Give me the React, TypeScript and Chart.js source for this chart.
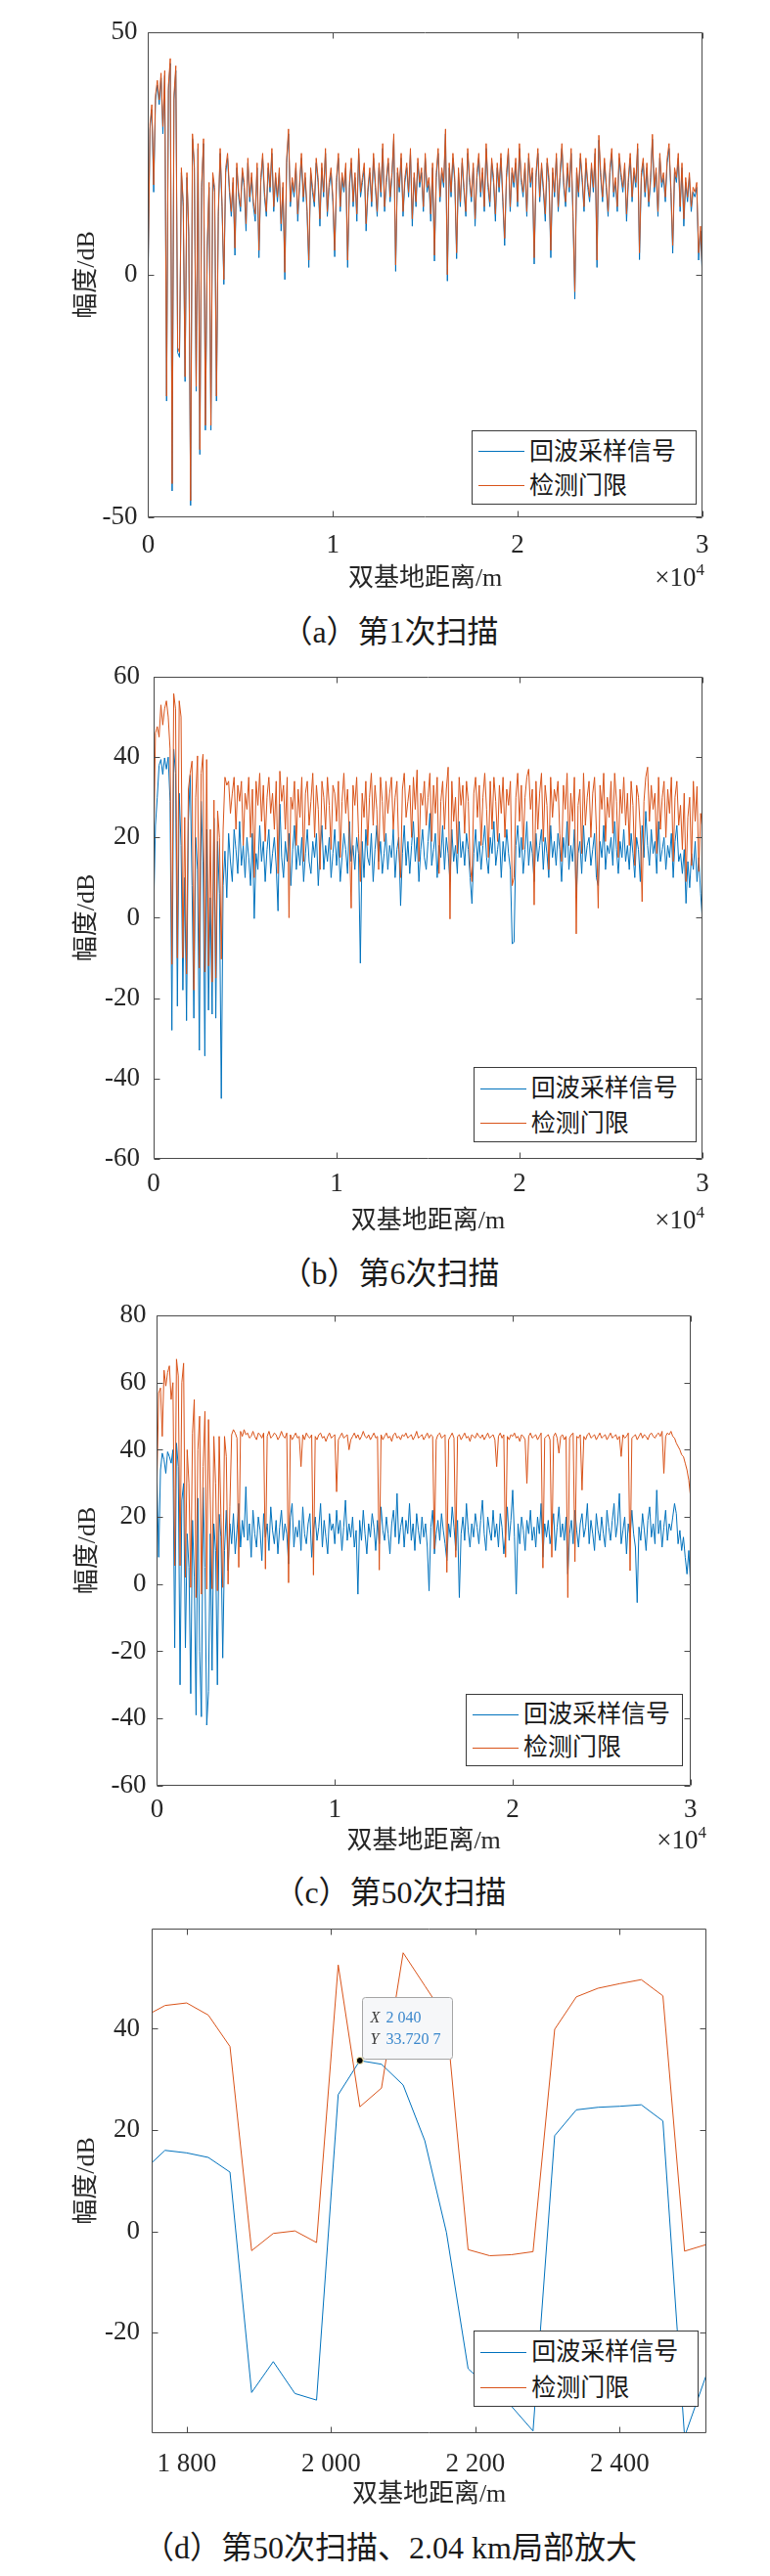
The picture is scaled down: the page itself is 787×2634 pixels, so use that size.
import { useEffect, useRef } from 'react';
import { Chart, registerables, Plugin } from 'chart.js';

Chart.register(...registerables);

const FONT = '"Liberation Serif", "Noto Sans CJK SC", serif';
const INK = '#262626';
const FRAME = '#4a4a4a';
const BLUE = '#0072BD';
const ORANGE = '#D95319';
const TICK_LEN = 6;

const SERIES_NAMES = ['回波采样信号', '检测门限'];
const X_TITLE = '双基地距离/m';
const Y_TITLE = '幅度/dB';

// sampling grid of the full scans (m)
const STEP = 100;
const distance = Array.from({ length: 301 }, (_, i) => i * STEP);

// tick positions
const scanXTicks = [0, 10000, 20000, 30000];
const zoomXTicks = [1800, 2000, 2200, 2400];
const yTicksScan1 = [-50, 0, 50];
const yTicksScan6 = [-60, -40, -20, 0, 20, 40, 60];
const yTicksScan50 = [-60, -40, -20, 0, 20, 40, 60, 80];
const yTicksZoom = [-20, 0, 20, 40];

// scan 1
const echoScan1 = [
  0, 30, 34, 17, 36, 39, 35, 40.5, 29, 41,
  -26, 38, 43.5, -44.5, 36, 42, -16, -17, 21, 14,
  -22, 20, 8, -47.5, 28, 22, -24, 26, -37, 18,
  27, -32, 5, 18, -32, 20, 17, -26, 12, 25,
  14, -2, 21, 24, 17, 12, 19, 4, 22, 16,
  13, 21, 18, 9, 23, 15, 20, 14, 11, 22,
  3.5, 19, 24, 16, 12, 22, 17, 25, 13, 20,
  15, 21, 9, 18, -1, 23, 29, 14, 19, 16,
  22, 11, 18, 24, 15, 20, 13, 1.5, 21, 17,
  14, 23, 19, 10, 22, 16, 25, 12, 18, 21,
  15, 3.7, 19, 24, 13, 20, 17, 22, 1.5, 18,
  23, 14, 20, 11, 25, 16, 19, 22, 9, 17,
  21, 14, 24, 18, 12, 22, 16, 26, 13, 19,
  23, 15, 20, 28, 0.7, 21, 17, 24, 12, 19,
  22, 16, 25, 10, 20, 14, 23, 18, 21, 13,
  24, 17, 19, 11, 22, 2.8, 20, 25, 15, 21,
  18, 29, -1.3, 22, 16, 24, 19, 3.3, 21, 14,
  23, 17, 12, 25, 19, 15, 22, 10, 20, 24,
  16, 21, 13, 26, 18, 14, 23, 19, 11, 22,
  17, 24, 15, 6, 20, 25, 13, 21, 18, 23,
  14, 26, 19, 16, 22, 12, 24, 18, 21, 2.2,
  20, 25, 15, 22, 17, 11, 23, 19, 3.5, 21,
  16, 24, 13, 20, 26, 18, 14, 22, 17, 25,
  12, -5, 21, 16, 24, 19, 13, 23, 18, 15,
  22, 17, 25, 1.5, 27.7, 20, 15, 23, 18, 12,
  21, 25, 16, 19, 13, 24, 20, 17, 22, 11,
  19, 24, 15, 21, 18, 26, 3.1, 20, 23, 16,
  22, 14, 19, 27.9, 17, 21, 12, 24, 18, 20,
  15, 23, 26, 17, 4.4, 21, 19, 24, 13, 22,
  10, 19, 15, 20, 13, 17, 16, 18, 3, 9,
  0,
];
const thresholdScan1 = [
  1, 31, 35, 18.5, 37, 40, 36, 41.5, 30.5, 42,
  -25, 39, 44.5, -43, 37, 43, -15, -16, 22, 15,
  -21, 21, 9, -46.5, 29, 23, -23, 27, -36, 19,
  28, -31, 6, 19, -31, 21, 18, -25, 13, 26,
  15, -1, 22, 25, 18, 13, 20, 5.5, 23, 17,
  14, 22, 19, 10.5, 24, 16, 21, 15, 12.5, 23,
  5, 20, 25, 17, 13, 23, 18, 26, 14, 21,
  16, 22, 10.5, 19, 0.5, 24, 30, 15, 20, 17,
  23, 12.5, 19, 25, 16, 21, 14, 3, 22, 18,
  15, 24, 20, 11.5, 23, 17, 26, 13, 19, 22,
  16, 5, 20, 25, 14, 21, 18, 23, 3, 19,
  24, 15, 21, 12.5, 26, 17, 20, 23, 10.5, 18,
  22, 15, 25, 19, 13, 23, 17, 27, 14, 20,
  24, 16, 21, 29, 2, 22, 18, 25, 13, 20,
  23, 17, 26, 11.5, 21, 15, 24, 19, 22, 14,
  25, 18, 20, 12.5, 23, 4, 21, 26, 16, 22,
  19, 30, 0, 23, 17, 25, 20, 4.5, 22, 15,
  24, 18, 13, 26, 20, 16, 23, 11.5, 21, 25,
  17, 22, 14, 27, 19, 15, 24, 20, 12.5, 23,
  18, 25, 16, 7.5, 21, 26, 14, 22, 19, 24,
  15, 27, 20, 17, 23, 13, 25, 19, 22, 3.5,
  21, 26, 16, 23, 18, 12.5, 24, 20, 5, 22,
  17, 25, 14, 21, 27, 19, 15, 23, 18, 26,
  13, -3.5, 22, 17, 25, 20, 14, 24, 19, 16,
  23, 18, 26, 3, 28.7, 21, 16, 24, 19, 13,
  22, 26, 17, 20, 14, 25, 21, 18, 23, 12.5,
  20, 25, 16, 22, 19, 27, 4.5, 21, 24, 17,
  23, 15, 20, 28.9, 18, 22, 13, 25, 19, 21,
  16, 24, 27, 18, 6, 22, 20, 25, 14, 23,
  11.5, 20, 16, 21, 14, 18, 17, 19, 4.5, 10,
  1,
];

// scan 6
const echoScan6 = [
  1, 23, 30, 38, 39.4, 35.7, 39.8, 37, 40, 29,
  -28, 42, 36, -22, 31, 18, -18, 10, -25.6, 24,
  35.5, 8, -25, 20, 12, -33, 29, 14, -34.4, 22,
  -23, 5, -24, 24.8, -25, 19, 6, -45, 8, 16.6,
  5, 21, 14, 9, 22, 17, 11, 24, 13, 18,
  10, 20, 15, 8, 21, -0.2, 16, 12, 23, 14,
  19, 9, 17, 22, 11, 16, 20, 13, 1.7, 28.3,
  15, 10, 19, 14, 21, 8, 17, 23, 12, 18,
  13, 20, 9, 16, 22, 14, 11, 19, 15, 21,
  8, 17, 23, 12, 18, 14, 20, 10, 16, 22,
  13, 19, 9, 15, 21, 17, 11, 24, 14, 18,
  12, 20, 16, -11.3, 19, 10, 22, 15, 13, 21,
  9, 17, 23, 14, 19, 11, 16, 21, 12, 18,
  15, 22, 10, 17, 20, 3, 16, 23, 13, 19,
  11, 18, 24, 14, 20, 9, 17, 22, 15, 12,
  19, 26, 13, 17, 21, 10, 18, 15, 23, 12,
  20, 16, 9, 22, 14, 18, 11, 24, 15, 19,
  13, 21, 17, 10, 3.5, 16, 22, 14, 19, 12,
  18, 23, 15, 11, 20, 16, 24, 13, 17, 21,
  10, 19, 14, 22, 16, 12, -6.5, -6, 18, 23,
  15, 20, 11, 17, 24, 13, 19, 16, 9, 21,
  14, 18, 22, 12, 20, 16, 10, 23, 15, 19,
  13, 21, 17, 9, 20, 15, 24, 12, 18, 14,
  22, 5, 16, 19, 11, 23, 14, 18, 20, 13,
  17, 21, 10, 8, 19, 15, 23, 12, 18, 16,
  20, 13, 24, 17, 11, 19, 15, 22, 14, 18,
  12, 21, 16, 10, 20, 17, 9, 23, 15, 26.5,
  18, 13, 22, 16, 19, 11, 24, 14, 17, 20,
  12, 18, 15, 21, 10, 19, 23, 14, 16, 11,
  17, 3.6, 14, 7.5, 16, 12, 19, 9, 15, 6,
  -1,
];
const thresholdScan6 = [
  15, 46, 47.6, 45, 53, 48, 52, 54, 50, 42,
  -11.6, 55.8, 52, -10, 54, 50, -10, 25, -14, 32,
  36, 39, -18, 30, 40.3, -12.5, 36, 40.7, -13.5, 39.4,
  -12, 22, -16, 29.3, -15, 26.6, 20, -10.3, 22, 35,
  33, 34, 26, 31, 35, 22, 33, 29, 34, 18,
  31, 27, 35, 20, 32, 10, 34, 28, 36, 24,
  33, 19, 30, 35, 26, 31, 22, 34, 11, 36.5,
  29, 33, 22, 35, 0, 30, 27, 34, 18, 32,
  25, 35, 14, 31, 34, 23, 29, 36, 20, 33,
  27, 12, 34, 30, 22, 35, 28, 17, 33, 31,
  24, 34, 15, 29, 36, 26, 32, 20, 2.4, 33,
  28, 35, 21, 9, 31, 25, 34, 18, 30, 36,
  23, 33, 27, 12, 35, 29, 19, 34, 26, 31,
  35, 22, 30, 34, 17, 10, 32, 36, 25, 29,
  33, 20, 35, 27, 36.8, 14, 31, 28, 34, 23,
  30, 36, 19, 33, 26, 35, 11, 29, 34, 22,
  32, 37.5, -0.3, 34, 24, 30, 16, 35, 28, 33,
  21, 34, 29, 13, 9, 31, 35, 25, 33, 18,
  30, 36, 27, 15, 34, 22, 35, 29, 19, 33,
  26, 35, 20, 32, 28, 34, 8, 10, 30, 36,
  24, 33, 17, 30, 35, 37, 27, 32, 3.2, 34,
  22, 31, 36, 19, 33, 28, 12, 35, 25, 32,
  29, 34, 21, 14, 33, 27, 36, 18, 31, 24,
  35, -4, 28, 32, 16, 36, 23, 30, 34, 20,
  31, 35, 22, 2.4, 33, 27, 36, 19, 30, 25,
  34, 21, 36, 29, 15, 32, 26, 35, 23, 31,
  18, 34, 28, 13, 33, 30, 22, 4, 29, 35,
  37.5, 24, 33, 27, 31, 16, 35, 22, 30, 34,
  20, 32, 26, 35, 14, 30, 34, 23, 28, 17,
  31, 9, 25, 30, 13, 34, 24, 32.7, 11.5, 26,
  22,
];

// scan 50
const echoScan50 = [
  32, 8, 34, 39, 37, 33, 39.4, 38, 36, 40,
  -19, 42, 35, -30, 25, 30, -19, 15, 5, -32.6,
  19, 2, -39, 25.6, -20, -39.5, 28.8, 5, -42, -32,
  15, -25.7, 18, 10, -30, 20.8, 14, -22, 10, 22,
  4, 18, 12, 21, 9, 16, 24, 11, 19, 14,
  29, 13, 18, 8, 22, 15, 11, 20, 16, 7,
  21, 14, 18, 10, 23, 16, 12, 19, 9, 17,
  22, 13, 18, 15, 6, 20, 24, 11, 17, 14,
  19, 10, 23, 15, 12, 18, 21, 8, 16, 20,
  13, 17, 24, 11, 19, 14, 9, 21, 16, 18,
  12, 22, 15, 19, 10, 17, 25, 13, 18, 14,
  20, 11, 16, -3, 19, 13, 22, 15, 9, 18,
  14, 21, 17, 10, 19, 12, 23, 16, 13, 20,
  15, 9, 18, 22, 14, 27, 12, 17, 20, 11,
  19, 15, 24, 13, 18, 10, 21, 16, 12, 20,
  14, 18, 11, -2, 17, 22, 9, 15, 19, 13,
  21, 16, 12, 7, 18, 14, 23, 17, 10, 19,
  -4, 15, 20, 13, 24, 16, 11, 18, 14, 21,
  17, 12, 19, 25, 15, 10, 20, 16, 13, 22,
  14, 18, 11, 21, 17, 9, 15, 23, 13, 19,
  28, 14, -3, 18, 12, 20, 16, 10, 19, 15,
  22, 13, 17, 11, 20, 15, 24, 8, 18, 14,
  19, 12, 16, 21, 10, 17, 23, 14, 18, 13,
  20, 3, 15, 19, 12, 22, 16, 11, 18, 21,
  14, 17, 24, 12, 19, 15, 10, 21, 16, 13,
  20, 15, 11, 22, 17, 13, 19, 24, 14, 18,
  27, 12, 16, 20, 9, 18, 14, 22, 15, 11,
  -5.5, 17, 13, 21, 16, 10, 19, 23, 14, 18,
  12, 28, 15, 19, 11, 17, 22, 13, 18, 16,
  20, 24, 21, 12, 16, 10, 14, 8, 3, 10,
  0,
];
const thresholdScan50 = [
  30, 57, 58.4, 44, 63.7, 59, 63, 65, 55, 60,
  5.5, 67, 62, 5.5, 60, 65.8, 2, 40, 30, -1,
  45, 55, -4, 40, 50, -3, 35, 51.5, -1.5, 49,
  25, -1.4, 44, 30, -2, 44, 20, -1, 44, 38,
  0, 23, 44.5, 46, 45, 43.5, 5, 45.5, 44, 46,
  44.5, 45, 43.5, 44, 45.5, 44, 43, 45, 44.5, 43.5,
  45, 4.5, 44, 45.5, 43.5, 44, 45, 44.5, 43, 44,
  45.5, 44, 43.5, 45, 0.4, 44.5, 43, 44, 45, 43.5,
  44, 35, 44.5, 43, 45, 44, 43.5, 44.5, 2.7, 44,
  43, 44.5, 45, 43.5, 44, 42.5, 44, 45, 43.5, 44,
  44.5, 27.5, 43, 44, 45, 43.5, 44, 44.5, 40, 43,
  44, 45, 43.5, 44.5, 43, 44, 45.5, 44, 43.5, 44.5,
  43, 44, 45, 43.5, 44, 4.2, 44.5, 43, 44, 45,
  43.5, 44, 42.5, 44.5, 45, 43.5, 44, 43, 44.5, 44,
  45, 43.5, 44, 44.5, 43, 44, 45.5, 43.5, 44, 44.5,
  43, 44, 45, 43.5, 44.5, 44, 10.5, 43, 44.5, 45,
  43.5, 44, 44.5, 3.5, 43, 44, 45, 43.5, 8, 44,
  44.5, 43, 44, 45, 43.5, 44, 42.5, 44.5, 44, 43.5,
  45, 44, 43.5, 44.5, 43, 44, 45, 43.5, 44, 44.5,
  43, 35, 44, 45, 43.5, 44.5, 8, 44, 43, 44.5,
  44, 45, 43.5, 44, 42.5, 44.5, 44, 43, 30, 44,
  45, 43.5, 44, 44.5, 43, 44, 45, 4.8, 43.5, 44,
  44.5, 43, 8, 44, 45, 43.5, 39, 44, 44.5, 43,
  44, -4, 43.5, 44.5, 45, 6.7, 44, 43.5, 44.5, 28,
  44, 43, 44.5, 45, 43.5, 44, 44.5, 43, 44, 45,
  43.5, 44, 44.5, 43, 44, 45, 43.5, 44, 44.5, 43,
  44, 38, 44.5, 43.5, 44, 45, 4, 43.5, 44, 44.5,
  43, 44, 45, 43.5, 44.5, 44, 43, 44.5, 45, 44,
  43.5, 44.5, 45, 44, 45.5, 33, 44, 45, 44.5, 45.5,
  44, 43.5, 42, 41, 40, 38.5, 38, 36, 34, 31,
  26,
];

// scan 50, zoom around 2.04 km
const zoomDistance = [
  1740, 1770, 1800, 1830, 1860, 1890, 1920, 1950, 1980, 2010, 2040, 2070, 2100, 2130,
  2160, 2190, 2220, 2250, 2280, 2310, 2340, 2370, 2400, 2430, 2460, 2490, 2520,
];
const zoomEcho = [
  12, 16, 15.5, 14.6, 11.7, -31.8, -25.7, -32, -33.3, 27, 33.7207, 33, 28.9, 17.9,
  -0.2, -27.1, -31, -34.5, -39.4, 18.9, 24, 24.5, 24.7, 25, 21.8, -40.5, -28.4,
];
const zoomThreshold = [
  42.3, 44.6, 45.1, 42.7, 36.5, -3.8, -0.4, 0.1, -2.2, 52.6, 24.6, 28.3, 55, 48.5,
  42, -3.6, -4.8, -4.6, -4, 39.9, 46.3, 48, 48.9, 49.7, 46.5, -3.9, -2.6,
];
const DATATIP_INDEX = 10;

// 2040 -> "2 040", 33.7207 -> "33.720 7"
function spaced(v: number): string {
  const [int, frac] = String(v).split('.');
  const i = int.replace(/\B(?=(\d{3})+$)/g, ' ');
  const f = frac ? '.' + frac.replace(/(\d{3})(?=\d)/g, '$1 ') : '';
  return i + f;
}

type Box = { left: number; top: number; right: number; bottom: number };

const framePlugin: Plugin<'line'> = {
  id: 'matlabFrame',
  afterDatasetsDraw(chart) {
    const { ctx, chartArea: a } = chart;
    const xs = chart.scales.x;
    const ys = chart.scales.y;
    const L = Math.round(a.left) + 0.5;
    const R = Math.round(a.right) - 0.5;
    const T = Math.round(a.top) + 0.5;
    const B = Math.round(a.bottom) - 0.5;
    ctx.save();
    ctx.strokeStyle = FRAME;
    ctx.lineWidth = 1;
    ctx.beginPath();
    ctx.rect(L, T, R - L, B - T);
    for (const t of xs.ticks) {
      const px = Math.round(xs.getPixelForValue(t.value)) + 0.5;
      ctx.moveTo(px, B);
      ctx.lineTo(px, B - TICK_LEN);
      ctx.moveTo(px, T);
      ctx.lineTo(px, T + TICK_LEN);
    }
    for (const t of ys.ticks) {
      const py = Math.round(ys.getPixelForValue(t.value)) + 0.5;
      ctx.moveTo(L, py);
      ctx.lineTo(L + TICK_LEN, py);
      ctx.moveTo(R, py);
      ctx.lineTo(R - TICK_LEN, py);
    }
    ctx.stroke();
    ctx.restore();
  },
};

function datatipPlugin(tx: number, ty: number): Plugin<'line'> {
  return {
    id: 'datatip',
    afterDraw(chart) {
      const { ctx } = chart;
      const px = chart.scales.x.getPixelForValue(tx);
      const py = chart.scales.y.getPixelForValue(ty);
      const w = 92;
      const h = 63;
      const left = Math.round(px + 2) + 0.5;
      const top = Math.round(py - 2 - h) + 0.5;
      ctx.save();
      ctx.beginPath();
      ctx.roundRect(left, top, w, h, 3);
      ctx.fillStyle = '#f6f7f9';
      ctx.fill();
      ctx.strokeStyle = '#a5a5a5';
      ctx.lineWidth = 1;
      ctx.stroke();
      ctx.textBaseline = 'middle';
      ctx.font = 'italic 16px "Liberation Serif"';
      ctx.fillStyle = '#3c3c3c';
      ctx.fillText('X', left + 8, top + 21);
      ctx.fillText('Y', left + 8, top + 43);
      ctx.font = '16px "Liberation Serif"';
      ctx.fillStyle = '#3a87cc';
      ctx.fillText(spaced(tx), left + 24, top + 21);
      ctx.fillText(spaced(ty), left + 24, top + 43);
      ctx.beginPath();
      ctx.arc(px, py, 3.5, 0, Math.PI * 2);
      ctx.fillStyle = '#000';
      ctx.fill();
      ctx.strokeStyle = '#fff3b0';
      ctx.stroke();
      ctx.restore();
    },
  };
}

interface PanelProps {
  top: number;
  height: number;
  area: Box;
  xs: number[];
  echo: number[];
  threshold: number[];
  xRange: [number, number];
  yRange: [number, number];
  xTicks: number[];
  yTicks: number[];
  xFormat: (v: number) => string;
  yTitleX: number;
  xTickPad: number;
  yTickPad: number;
  tip?: [number, number];
}

const Panel = (p: PanelProps) => {
  const canvasRef = useRef<HTMLCanvasElement | null>(null);

  useEffect(() => {
    if (!canvasRef.current) return;
    const areaTop = p.area.top - p.top;
    const areaBottom = p.area.bottom - p.top;
    const scaleLeft = p.yTitleX - (26 * 1.2) / 2;
    const tickFont = { family: FONT, size: 27 };
    const titleFont = { family: FONT, size: 26, lineHeight: 1.2 };

    const chart = new Chart(canvasRef.current, {
      type: 'line',
      data: {
        datasets: [
          {
            label: SERIES_NAMES[0],
            data: p.xs.map((x, i) => ({ x, y: p.echo[i] })),
            borderColor: BLUE,
            borderWidth: 1,
            pointRadius: 0,
            tension: 0,
            order: 2,
          },
          {
            label: SERIES_NAMES[1],
            data: p.xs.map((x, i) => ({ x, y: p.threshold[i] })),
            borderColor: ORANGE,
            borderWidth: 1,
            pointRadius: 0,
            tension: 0,
            order: 1,
          },
        ],
      },
      options: {
        animation: false,
        responsive: false,
        events: [],
        layout: {
          autoPadding: false,
          padding: { left: scaleLeft, top: areaTop, right: 787 - p.area.right, bottom: 0 },
        },
        plugins: { legend: { display: false }, tooltip: { enabled: false } },
        scales: {
          x: {
            type: 'linear',
            min: p.xRange[0],
            max: p.xRange[1],
            grid: { display: false, drawTicks: false },
            border: { display: false },
            afterBuildTicks: (s) => {
              s.ticks = p.xTicks.map((value) => ({ value }));
            },
            ticks: {
              autoSkip: false,
              maxRotation: 0,
              padding: p.xTickPad,
              color: INK,
              font: tickFont,
              callback: (v) => p.xFormat(Number(v)),
            },
            title: { display: true, text: X_TITLE, color: INK, font: titleFont, padding: 0 },
            afterFit: (s) => {
              s.height = p.height - areaBottom;
            },
          },
          y: {
            min: p.yRange[0],
            max: p.yRange[1],
            grid: { display: false, drawTicks: false },
            border: { display: false },
            afterBuildTicks: (s) => {
              s.ticks = p.yTicks.map((value) => ({ value }));
            },
            ticks: {
              autoSkip: false,
              padding: p.yTickPad,
              color: INK,
              font: tickFont,
              callback: (v) => String(v),
            },
            title: { display: true, text: Y_TITLE, color: INK, font: titleFont, padding: 0 },
            afterFit: (s) => {
              s.width = p.area.left - scaleLeft;
            },
          },
        },
      },
      plugins: p.tip ? [framePlugin, datatipPlugin(p.tip[0], p.tip[1])] : [framePlugin],
    });

    return () => {
      chart.destroy();
    };
  }, [p]);

  return (
    <canvas
      ref={canvasRef}
      width={787}
      height={p.height}
      style={{ position: 'absolute', left: 0, top: p.top, width: 787, height: p.height }}
    />
  );
};

const Legend = ({ left, top, width, height }: { left: number; top: number; width: number; height: number }) => (
  <div
    style={{
      position: 'absolute',
      left,
      top,
      width,
      height,
      boxSizing: 'border-box',
      border: '1px solid #3a3a3a',
      background: '#fff',
    }}
  >
    {SERIES_NAMES.map((name, i) => (
      <div
        key={name}
        style={{
          position: 'absolute',
          left: 0,
          top: (i === 0 ? 0.272 : 0.735) * height - 16,
          height: 32,
          display: 'flex',
          alignItems: 'center',
        }}
      >
        <span
          style={{
            display: 'inline-block',
            marginLeft: 6,
            width: 47,
            height: 0,
            borderTop: `1px solid ${i === 0 ? BLUE : ORANGE}`,
          }}
        />
        <span style={{ marginLeft: 5, fontFamily: FONT, fontSize: 25, lineHeight: '32px', color: '#1a1a1a' }}>
          {name}
        </span>
      </div>
    ))}
  </div>
);

const Caption = ({ text, cy }: { text: string; cy: number }) => (
  <div
    style={{
      position: 'absolute',
      left: 0,
      width: 797,
      top: cy - 19,
      textAlign: 'center',
      fontFamily: FONT,
      fontSize: 32,
      lineHeight: '38px',
      color: '#1a1a1a',
      whiteSpace: 'nowrap',
    }}
  >
    {text}
  </div>
);

const Exponent = ({ right, cy }: { right: number; cy: number }) => (
  <div
    style={{
      position: 'absolute',
      left: right - 120,
      width: 120,
      top: cy - 16,
      textAlign: 'right',
      fontFamily: FONT,
      fontSize: 27,
      lineHeight: '32px',
      color: INK,
    }}
  >
    ×10
    <span style={{ fontSize: 17, position: 'relative', top: -11 }}>4</span>
  </div>
);

const byTenThousand = (v: number) => String(v / 10000);

const panelA: PanelProps = {
  top: 0, height: 608, area: { left: 151.4, top: 32.5, right: 717.8, bottom: 529.3 },
  xs: distance, echo: echoScan1, threshold: thresholdScan1,
  xRange: [0, 30000], yRange: [-50, 50], xTicks: scanXTicks, yTicks: yTicksScan1,
  xFormat: byTenThousand, yTitleX: 89.2, xTickPad: 12, yTickPad: 11,
};
const panelB: PanelProps = {
  top: 640, height: 625, area: { left: 157, top: 692, right: 718, bottom: 1184.9 },
  xs: distance, echo: echoScan6, threshold: thresholdScan6,
  xRange: [0, 30000], yRange: [-60, 60], xTicks: scanXTicks, yTicks: yTicksScan6,
  xFormat: byTenThousand, yTitleX: 89.2, xTickPad: 9.4, yTickPad: 14,
};
const panelC: PanelProps = {
  top: 1290, height: 609, area: { left: 160.4, top: 1345.1, right: 705.8, bottom: 1825.8 },
  xs: distance, echo: echoScan50, threshold: thresholdScan50,
  xRange: [0, 30000], yRange: [-60, 80], xTicks: scanXTicks, yTicks: yTicksScan50,
  xFormat: byTenThousand, yTitleX: 90.2, xTickPad: 8.5, yTickPad: 11,
};
const panelD: PanelProps = {
  top: 1930, height: 637, area: { left: 155.4, top: 1971.9, right: 721.8, bottom: 2487.8 },
  xs: zoomDistance, echo: zoomEcho, threshold: zoomThreshold,
  xRange: [1752, 2520], yRange: [-39.8, 59.8], xTicks: zoomXTicks, yTicks: yTicksZoom,
  xFormat: spaced, yTitleX: 89.2, xTickPad: 16, yTickPad: 12.5,
  tip: [zoomDistance[DATATIP_INDEX], zoomEcho[DATATIP_INDEX]],
};

export default function App() {
  return (
    <div style={{ position: 'absolute', left: 0, top: 0, width: 787, height: 2634, background: '#fff' }}>
      <Panel {...panelA} />
      <Legend left={482} top={440} width={230} height={76} />
      <Exponent right={720} cy={590} />
      <Caption text="（a）第1次扫描" cy={646.4} />

      <Panel {...panelB} />
      <Legend left={483.7} top={1091.2} width={228} height={77} />
      <Exponent right={720} cy={1247.4} />
      <Caption text="（b）第6次扫描" cy={1301.6} />

      <Panel {...panelC} />
      <Legend left={476} top={1732} width={222} height={74} />
      <Exponent right={722} cy={1880.9} />
      <Caption text="（c）第50次扫描" cy={1935} />

      <Panel {...panelD} />
      <Legend left={484.2} top={2382.9} width={230} height={78.4} />
      <Caption text="（d）第50次扫描、2.04 km局部放大" cy={2604.5} />
    </div>
  );
}
